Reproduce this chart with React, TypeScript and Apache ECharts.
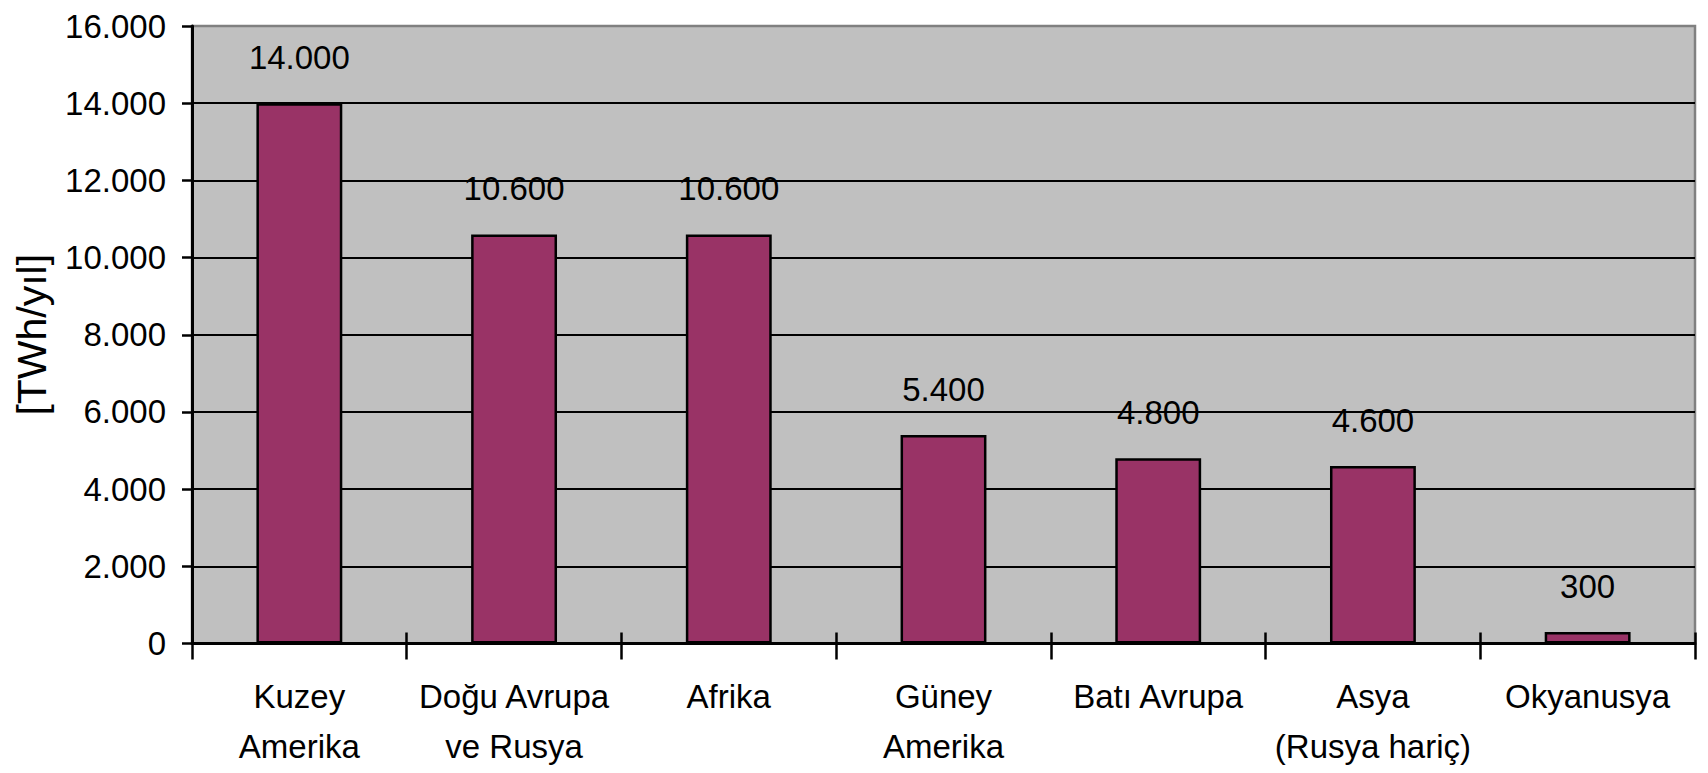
import React, { useEffect, useRef } from "react";
import * as echarts from "echarts";

// Regions and their annual potential in TWh/yıl
const categories: string[] = [
  "Kuzey\nAmerika",
  "Doğu Avrupa\nve Rusya",
  "Afrika",
  "Güney\nAmerika",
  "Batı Avrupa",
  "Asya\n(Rusya hariç)",
  "Okyanusya",
];
const values: number[] = [14000, 10600, 10600, 5400, 4800, 4600, 300];

const yMin = 0;
const yMax = 16000;
const yStep = 2000;
const yTitle = "[TWh/yıl]";

const font = "'Liberation Sans', Arial, sans-serif";

// thousands separated with dots: 14000 -> 14.000
const dotted = (v: number): string =>
  String(Math.round(v)).replace(/\B(?=(\d{3})+(?!\d))/g, ".");

export default function App() {
  const ref = useRef<HTMLDivElement>(null);

  useEffect(() => {
    if (!ref.current) return;
    const chart = echarts.init(ref.current, undefined, { renderer: "svg" });
    chart.setOption({
      animation: false,
      backgroundColor: "#ffffff",
      grid: {
        left: 192,
        right: 13,
        top: 26,
        bottom: 129.5,
        containLabel: false,
        outerBoundsMode: "none",
        show: true,
        backgroundColor: "#C0C0C0",
        borderColor: "#808080",
        borderWidth: 2.5,
      },
      xAxis: [
        {
          type: "category",
          data: categories,
          boundaryGap: true,
          axisLine: { show: true, lineStyle: { color: "#000", width: 3 } },
          axisTick: {
            show: true,
            interval: 0,
            inside: false,
            length: 16,
            lineStyle: { color: "#000", width: 2.5 },
          },
          axisLabel: {
            interval: 0,
            margin: 28,
            color: "#000",
            fontFamily: font,
            fontSize: 33,
            lineHeight: 50,
          },
          splitLine: { show: false },
        },
        {
          // inner half of the crossing category ticks
          type: "category",
          data: categories,
          position: "bottom",
          boundaryGap: true,
          axisLine: { show: false },
          axisTick: {
            show: true,
            interval: 0,
            inside: true,
            length: 11,
            lineStyle: { color: "#000", width: 2.5 },
          },
          axisLabel: { show: false },
          splitLine: { show: false },
        },
      ],
      yAxis: {
        type: "value",
        min: yMin,
        max: yMax,
        interval: yStep,
        name: yTitle,
        nameLocation: "middle",
        nameRotate: 90,
        nameGap: 140,
        nameTextStyle: {
          color: "#000",
          fontFamily: font,
          fontSize: 41,
        },
        axisLine: { show: true, lineStyle: { color: "#000", width: 3 } },
        axisTick: {
          show: true,
          inside: false,
          length: 10,
          lineStyle: { color: "#000", width: 2.5 },
        },
        axisLabel: {
          margin: 26,
          color: "#000",
          fontFamily: font,
          fontSize: 33,
          formatter: (v: number) => dotted(v),
        },
        splitLine: {
          show: true,
          showMaxLine: false,
          lineStyle: { color: "#000", width: 2 },
        },
      },
      series: [
        {
          type: "bar",
          xAxisIndex: 0,
          data: values,
          barWidth: "40%",
          itemStyle: {
            color: "#993366",
            borderColor: "#000",
            borderWidth: 2.5,
          },
          label: {
            show: true,
            position: "top",
            distance: 29,
            color: "#000",
            fontFamily: font,
            fontSize: 33,
            formatter: (p: any) => dotted(p.value),
          },
        },
      ],
    });
    return () => chart.dispose();
  }, []);

  return (
    <div
      ref={ref}
      style={{ position: "fixed", left: 0, top: 0, width: 1708, height: 773, background: "#fff" }}
    />
  );
}
